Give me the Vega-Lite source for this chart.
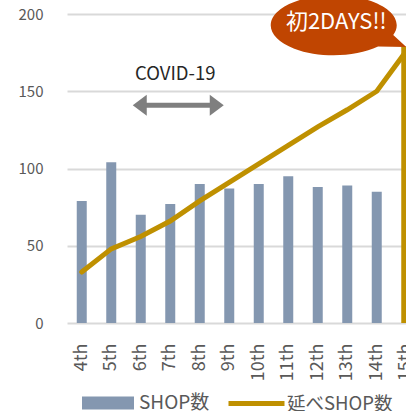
{
  "$schema": "https://vega.github.io/schema/vega-lite/v6.json",
  "width": 354,
  "height": 309,
  "autosize": {"type": "none"},
  "padding": {"left": 67, "top": 14, "right": 0, "bottom": 88},
  "background": "white",
  "config": {
    "view": {"stroke": null},
    "font": "Noto Sans CJK JP",
    "axis": {"labelFont": "Noto Sans CJK JP", "labelColor": "#595959"},
    "legend": {"labelFont": "Noto Sans CJK JP", "labelColor": "#595959", "padding": 0}
  },
  "datasets": {
    "main": [
      {"day": "4th", "shops": 79, "total": 33},
      {"day": "5th", "shops": 104, "total": 48},
      {"day": "6th", "shops": 70, "total": 56},
      {"day": "7th", "shops": 77, "total": 66},
      {"day": "8th", "shops": 90, "total": 79},
      {"day": "9th", "shops": 87, "total": 91},
      {"day": "10th", "shops": 90, "total": 103},
      {"day": "11th", "shops": 95, "total": 115},
      {"day": "12th", "shops": 88, "total": 127},
      {"day": "13th", "shops": 89, "total": 138},
      {"day": "14th", "shops": 85, "total": 150},
      {"day": "15th", "shops": 179, "total": 176}
    ],
    "callout": [{"day": "15th", "value": 176, "label": "初2DAYS!!"}],
    "covid": [{"from": "6th", "to": "9th", "value": 141, "label": "COVID-19", "mid": "7th", "tv": 161}]
  },
  "encoding": {
    "x": {
      "field": "day",
      "type": "nominal",
      "sort": null,
      "scale": {"domain": ["4th","5th","6th","7th","8th","9th","10th","11th","12th","13th","14th","15th"], "paddingInner": 0, "paddingOuter": 0},
      "axis": {"title": null, "labelAngle": -90, "labelFontSize": 18, "labelPadding": 20, "ticks": false, "domain": false}
    }
  },
  "layer": [
    {
      "data": {"name": "main"},
      "mark": {"type": "bar", "size": 10},
      "encoding": {
        "y": {
          "field": "shops",
          "type": "quantitative",
          "scale": {"domain": [0, 200]},
          "axis": {"title": null, "values": [0, 50, 100, 150, 200], "labelFontSize": 15, "labelPadding": 24, "ticks": false, "domain": false, "gridColor": "#D9D9D9", "gridWidth": 2}
        },
        "fill": {
          "condition": {"test": "datum.day === '15th'", "value": "#BF9000"},
          "datum": "SHOP数",
          "scale": {"range": ["#8497B0"]},
          "legend": {
            "title": null,
            "orient": "none",
            "legendX": 15,
            "legendY": 363,
            "symbolType": "M-1,-0.25H1V0.25H-1Z",
            "symbolSize": 2704,
            "symbolStrokeWidth": 0,
            "labelFontSize": 19,
            "labelOffset": 5
          }
        }
      }
    },
    {
      "data": {"name": "main"},
      "mark": {"type": "line", "strokeWidth": 5, "strokeCap": "round"},
      "encoding": {
        "y": {"field": "total", "type": "quantitative"},
        "stroke": {
          "datum": "延べSHOP数",
          "scale": {"range": ["#BF9000"]},
          "legend": {
            "title": null,
            "orient": "none",
            "legendX": 159,
            "legendY": 359,
            "symbolType": "stroke",
            "symbolSize": 3136,
            "symbolStrokeWidth": 5,
            "labelFontSize": 18.5,
            "labelOffset": 0
          }
        }
      }
    },
    {
      "data": {"name": "callout"},
      "mark": {
        "type": "point",
        "filled": true,
        "opacity": 1,
        "size": 4,
        "color": "#C04501",
        "shape": "M-13,-16A63,30 0 1,0 -28.2,-4.5L0,-4Z"
      },
      "encoding": {"y": {"field": "value", "type": "quantitative"}}
    },
    {
      "data": {"name": "callout"},
      "mark": {"type": "text", "color": "white", "fontSize": 22, "dx": -70, "dy": -29, "align": "center", "baseline": "middle"},
      "encoding": {"y": {"field": "value", "type": "quantitative"}, "text": {"field": "label"}}
    },
    {
      "data": {"name": "covid"},
      "mark": {"type": "rule", "strokeWidth": 5, "color": "#7F7F7F", "xOffset": 4, "x2Offset": -12},
      "encoding": {
        "x": {"field": "from", "type": "nominal"},
        "x2": {"field": "to"},
        "y": {"field": "value", "type": "quantitative"}
      }
    },
    {
      "data": {"name": "covid"},
      "mark": {"type": "point", "filled": true, "opacity": 1, "size": 4, "color": "#7F7F7F", "shape": "M-8,0L6,-10.5L6,10.5Z"},
      "encoding": {
        "x": {"field": "from", "type": "nominal"},
        "y": {"field": "value", "type": "quantitative"}
      }
    },
    {
      "data": {"name": "covid"},
      "mark": {"type": "point", "filled": true, "opacity": 1, "size": 4, "color": "#7F7F7F", "shape": "M-5.5,0L-19.5,-10.5L-19.5,10.5Z"},
      "encoding": {
        "x": {"field": "to", "type": "nominal"},
        "y": {"field": "value", "type": "quantitative"}
      }
    },
    {
      "data": {"name": "covid"},
      "mark": {"type": "text", "color": "#262626", "fontSize": 18.5, "dx": 5, "align": "center", "baseline": "middle"},
      "encoding": {
        "x": {"field": "mid", "type": "nominal"},
        "y": {"field": "tv", "type": "quantitative"},
        "text": {"field": "label"}
      }
    }
  ]
}
